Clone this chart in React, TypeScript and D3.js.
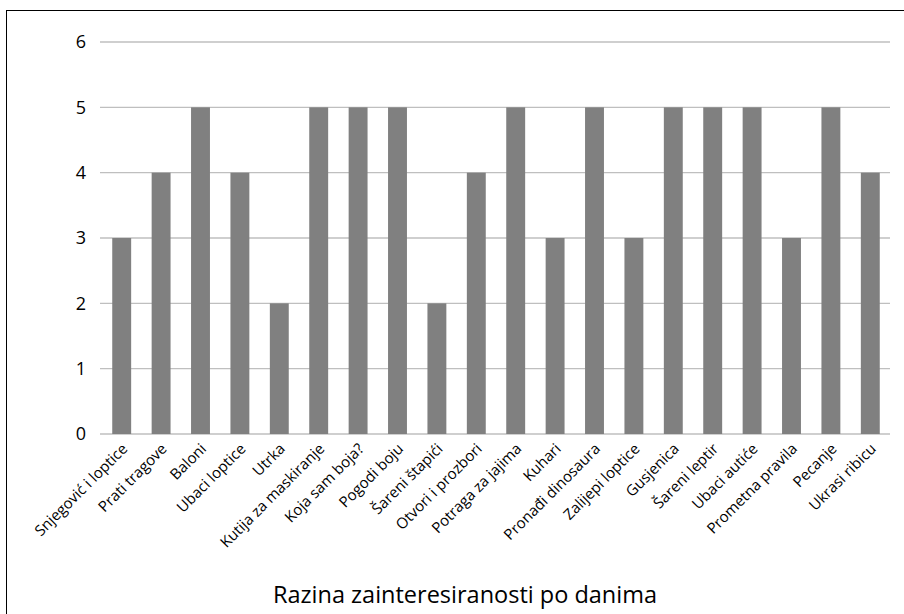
import React, { useRef, useEffect } from "react";
import * as d3 from "d3";

const categories = [
  "Snjegović i loptice",
  "Prati tragove",
  "Baloni",
  "Ubaci loptice",
  "Utrka",
  "Kutija za maskiranje",
  "Koja sam boja?",
  "Pogodi boju",
  "Šareni štapići",
  "Otvori i prozbori",
  "Potraga za jajima",
  "Kuhari",
  "Pronađi dinosaura",
  "Zalijepi loptice",
  "Gusjenica",
  "Šareni leptir",
  "Ubaci autiće",
  "Prometna pravila",
  "Pecanje",
  "Ukrasi ribicu",
];
const values = [3, 4, 5, 4, 2, 5, 5, 5, 2, 4, 5, 3, 5, 3, 5, 5, 5, 3, 5, 4];
const yTicks = [0, 1, 2, 3, 4, 5, 6];
const title = "Razina zainteresiranosti po danima";

const width = 904;
const height = 614;

const App = () => {
  const node: any = useRef();

  useEffect(() => {
    const svg = d3.select(node.current);
    svg.selectAll("*").remove();

    const font = "'Open Sans', 'DejaVu Sans', sans-serif";
    const left = 100,
      right = 890;

    // border
    svg
      .append("rect")
      .attr("x", 6.5)
      .attr("y", 10.5)
      .attr("width", 920)
      .attr("height", 620)
      .attr("fill", "none")
      .attr("stroke", "#000")
      .attr("stroke-width", 1);

    const x = d3
      .scaleBand()
      .domain(categories)
      .range([left + 2, right])
      .paddingInner(0.52)
      .paddingOuter(0.26);

    const y = d3.scaleLinear().domain([0, 6]).range([434, 42]);

    // gridlines
    svg
      .append("g")
      .selectAll("line")
      .data(yTicks)
      .enter()
      .append("line")
      .attr("x1", left)
      .attr("x2", right)
      .attr("y1", (d: number) => y(d))
      .attr("y2", (d: number) => y(d))
      .attr("stroke", "#bfbfbf")
      .attr("stroke-width", 1.3);

    // y labels
    svg
      .append("g")
      .selectAll("text")
      .data(yTicks)
      .enter()
      .append("text")
      .attr("x", 86)
      .attr("y", (d: number) => y(d))
      .attr("dy", "0.36em")
      .attr("text-anchor", "end")
      .style("font-family", font)
      .style("font-size", "18px")
      .text((d: number) => d);

    // bars
    svg
      .append("g")
      .selectAll("rect")
      .data(values)
      .enter()
      .append("rect")
      .attr("x", (_d: number, i: number) => x(categories[i]) || 0)
      .attr("y", (d: number) => y(d))
      .attr("width", x.bandwidth())
      .attr("height", (d: number) => y(0) - y(d))
      .attr("fill", "#808080");

    // category labels
    svg
      .append("g")
      .selectAll("text")
      .data(categories)
      .enter()
      .append("text")
      .attr(
        "transform",
        (d: string) =>
          "translate(" + ((x(d) || 0) + x.bandwidth() / 2 + 3) + ",446)rotate(-45)"
      )
      .attr("text-anchor", "end")
      .attr("dy", "0.35em")
      .style("font-family", font)
      .style("font-size", "15px")
      .text((d: string) => d);

    // title
    svg
      .append("text")
      .attr("x", 465)
      .attr("y", 603)
      .attr("text-anchor", "middle")
      .style("font-family", font)
      .style("font-size", "23.5px")
      .text(title);
  }, []);

  return (
    <div style={{ position: "absolute", left: 0, top: 0 }}>
      <svg ref={node} width={width} height={height} style={{ display: "block", background: "#fff" }}></svg>
    </div>
  );
};

export default App;
